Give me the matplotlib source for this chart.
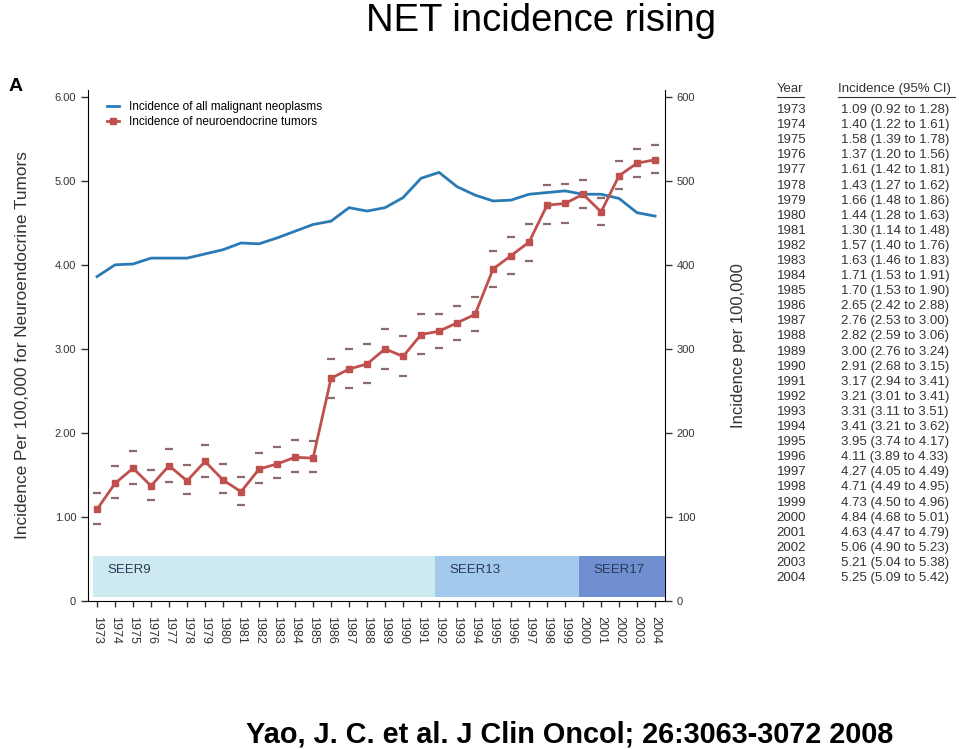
import numpy as np
import matplotlib
matplotlib.use("Agg")
import matplotlib.pyplot as plt

plt.rcParams['font.family'] = ['Liberation Sans', 'DejaVu Sans']

# Datos
years = list(range(1973, 2005))
net_rate = [1.09, 1.40, 1.58, 1.37, 1.61, 1.43, 1.66, 1.44, 1.30, 1.57, 1.63, 1.71,
            1.70, 2.65, 2.76, 2.82, 3.00, 2.91, 3.17, 3.21, 3.31, 3.41, 3.95, 4.11,
            4.27, 4.71, 4.73, 4.84, 4.63, 5.06, 5.21, 5.25]
net_low = [0.92, 1.22, 1.39, 1.20, 1.42, 1.27, 1.48, 1.28, 1.14, 1.40, 1.46, 1.53,
           1.53, 2.42, 2.53, 2.59, 2.76, 2.68, 2.94, 3.01, 3.11, 3.21, 3.74, 3.89,
           4.05, 4.49, 4.50, 4.68, 4.47, 4.90, 5.04, 5.09]
net_high = [1.28, 1.61, 1.78, 1.56, 1.81, 1.62, 1.86, 1.63, 1.48, 1.76, 1.83, 1.91,
            1.90, 2.88, 3.00, 3.06, 3.24, 3.15, 3.41, 3.41, 3.51, 3.62, 4.17, 4.33,
            4.49, 4.95, 4.96, 5.01, 4.79, 5.23, 5.38, 5.42]
# incidencia de todas las neoplasias malignas (por 100.000)
all_rate = [386, 400, 401, 408, 408, 408, 413, 418, 426, 425, 432, 440,
            448, 452, 468, 464, 468, 480, 503, 510, 493, 483, 476, 477,
            484, 486, 488, 484, 484, 479, 462, 458]
seer_names = ["SEER9", "SEER13", "SEER17"]
seer_start = [1973, 1992, 2000]
seer_end = [1991, 1999, 2004]
seer_colors = ["#cdeaf1", "#a3c9ec", "#6f8fd0"]

fig = plt.figure(figsize=(9.59, 7.49), dpi=100)
ax = fig.add_axes([0.0918, 0.1976, 0.6016, 0.6822])
ax2 = ax.twinx()

# Bandas SEER
for nombre, ini, fin, col in zip(seer_names, seer_start, seer_end, seer_colors):
    x0 = ini - 0.2
    x1 = fin + 0.55 if fin == seer_end[-1] else fin + 0.8
    ax.fill_between([x0, x1], 0.05, 0.54, color=col, lw=0, zorder=0)
    ax.text(x0 + 0.75, 0.37, nombre, fontsize=9.5, color="#2a3a55", va="center", zorder=1)

# Intervalos de confianza
ax.plot(years, net_high, ls="none", marker="_", ms=6, mew=1.6, color="#8a6a6a", zorder=2)
ax.plot(years, net_low, ls="none", marker="_", ms=6, mew=1.6, color="#8a6a6a", zorder=2)
l2, = ax.plot(years, net_rate, color="#c0504d", lw=2, marker="s", ms=5, zorder=3,
              label="Incidence of neuroendocrine tumors")
l1, = ax2.plot(years, all_rate, color="#2a7ab5", lw=2,
               label="Incidence of all malignant neoplasms")
ax.set_zorder(ax2.get_zorder() + 1)
ax.patch.set_visible(False)

ax.set_xlim(1972.5, 2004.55)
ax.set_ylim(0, 6.08)
ax2.set_ylim(0, 608)

ax.set_yticks([0, 1, 2, 3, 4, 5, 6])
ax.set_yticklabels(["0", "1.00", "2.00", "3.00", "4.00", "5.00", "6.00"])
ax2.set_yticks([0, 100, 200, 300, 400, 500, 600])
ax.set_xticks(years)
ax.set_xticklabels([str(y) for y in years], rotation=-90)

for a in (ax, ax2):
    a.spines["top"].set_visible(False)
    a.tick_params(labelsize=8, colors="#333333", length=5, width=1)
ax.spines["right"].set_visible(False)
ax2.spines["left"].set_visible(False)
ax2.spines["bottom"].set_visible(False)
ax.tick_params(axis="x", length=4, pad=7, labelsize=9)

ax.set_ylabel("Incidence Per 100,000 for Neuroendocrine Tumors", fontsize=12.4,
              color="#333333", labelpad=18)
ax2.set_ylabel("Incidence per 100,000", fontsize=12, color="#333333", labelpad=26)

ax.legend(handles=[l1, l2], loc="upper left", frameon=False, fontsize=8.5,
          handlelength=1.0, labelspacing=0.3, bbox_to_anchor=(0.015, 1.0))

fig.text(0.564, 0.972, "NET incidence rising", fontsize=27.5, ha="center", va="center")
fig.text(0.009, 0.884, "A", fontsize=14, fontweight="bold", va="center")
fig.text(0.594, 0.019, "Yao, J. C. et al. J Clin Oncol; 26:3063-3072 2008",
         fontsize=20.8, fontweight="bold", ha="center", va="center")

# Tabla
fig.text(0.810, 0.881, "Year", fontsize=9.5, color="#333333", va="center")
fig.text(0.874, 0.881, "Incidence (95% CI)", fontsize=9.5, color="#333333", va="center")
fig.add_artist(plt.Line2D([0.810, 0.838], [0.870, 0.870], color="#333333", lw=0.8))
fig.add_artist(plt.Line2D([0.874, 0.996], [0.870, 0.870], color="#333333", lw=0.8))
for i, y in enumerate(years):
    yy = 0.853 - i * 0.02015
    fig.text(0.810, yy, str(y), fontsize=9.5, color="#333333", va="center")
    fig.text(0.877, yy, f"{net_rate[i]:.2f} ({net_low[i]:.2f} to {net_high[i]:.2f})",
             fontsize=9.5, color="#333333", va="center")

fig.savefig("out.png", dpi=100)
